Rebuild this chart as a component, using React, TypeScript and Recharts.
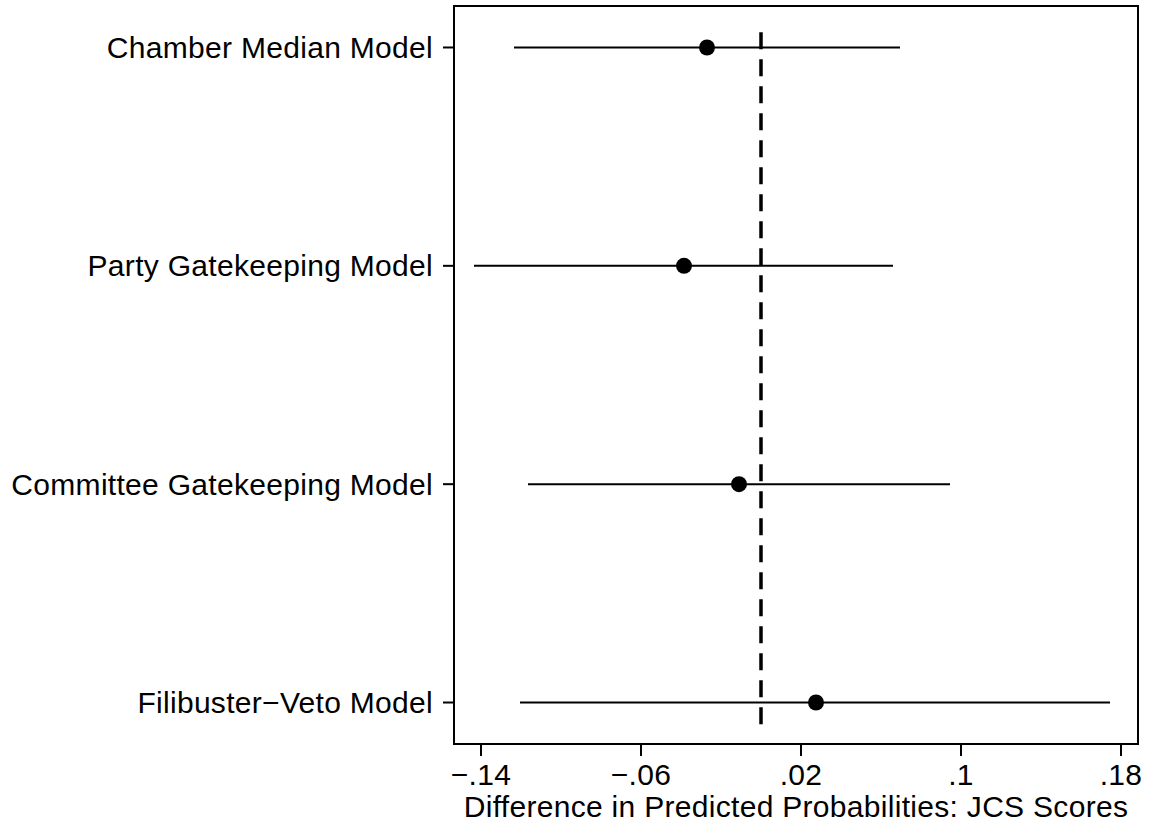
import React from "react";
import {
  ScatterChart,
  Scatter,
  XAxis,
  YAxis,
  ErrorBar,
  ReferenceLine,
  ReferenceArea,
} from "recharts";

// models, top to bottom
const models = [
  "Chamber Median Model",
  "Party Gatekeeping Model",
  "Committee Gatekeeping Model",
  "Filibuster\u2212Veto Model",
];
const rowPos = [4, 3, 2, 1];
const estimates = [-0.027, -0.0385, -0.011, 0.0275];
const lower = [-0.1235, -0.1435, -0.1165, -0.1205];
const upper = [0.0695, 0.066, 0.0945, 0.1745];
const xTicks = [-0.14, -0.06, 0.02, 0.1, 0.18];

const xDomain = [-0.1535, 0.1885];
const yDomain = [0.81, 4.19];

const data = models.map((m, i) => ({
  name: m,
  x: estimates[i],
  y: rowPos[i],
  err: [estimates[i] - lower[i], upper[i] - estimates[i]],
}));

const font = "'Liberation Sans', Arial, Helvetica, sans-serif";
const textStyle = { fontSize: 30, fill: "#000", fontFamily: font, letterSpacing: 0.3 };
const black = { stroke: "#000", strokeWidth: 2 };

const fmtX = (v: number) => {
  const s = Math.abs(v).toString().replace(/^0/, "");
  return v < 0 ? "\u2212" + s : s;
};
const fmtY = (v: number) => models[rowPos.indexOf(v)] ?? "";

const Dot = (props: any) => <circle cx={props.cx} cy={props.cy} r={8} fill="#000" />;

export default function App() {
  return (
    <div style={{ position: "absolute", left: 0, top: 0, background: "#fff" }}>
      <ScatterChart
        width={1151}
        height={825}
        margin={{ top: 6, right: 13, bottom: 0, left: 0 }}
      >
        <XAxis
          type="number"
          dataKey="x"
          domain={xDomain}
          ticks={xTicks}
          tickFormatter={fmtX}
          height={81}
          tickSize={12}
          tickMargin={8}
          axisLine={black}
          tickLine={black}
          tick={textStyle}
          allowDataOverflow
          label={{
            value: "Difference in Predicted Probabilities: JCS Scores",
            position: "insideBottom",
            offset: 8,
            style: textStyle,
          }}
        />
        <YAxis
          type="number"
          dataKey="y"
          domain={yDomain}
          ticks={rowPos}
          tickFormatter={fmtY}
          width={454}
          tickSize={11}
          tickMargin={10}
          axisLine={black}
          tickLine={black}
          tick={textStyle}
          allowDataOverflow
        />
        {/* plot frame */}
        <ReferenceArea
          x1={xDomain[0]}
          x2={xDomain[1]}
          y1={yDomain[0]}
          y2={yDomain[1]}
          fill="none"
          stroke="#000"
          strokeWidth={2}
        />
        <ReferenceLine
          segment={[
            { x: 0, y: 0.9 },
            { x: 0, y: 4.1 },
          ]}
          stroke="#000"
          strokeWidth={3.5}
          strokeDasharray="17 10"
        />
        <Scatter data={data} shape={<Dot />} isAnimationActive={false}>
          <ErrorBar
            dataKey="err"
            direction="x"
            width={0}
            stroke="#000"
            strokeWidth={2}
            isAnimationActive={false}
          />
        </Scatter>
      </ScatterChart>
    </div>
  );
}
